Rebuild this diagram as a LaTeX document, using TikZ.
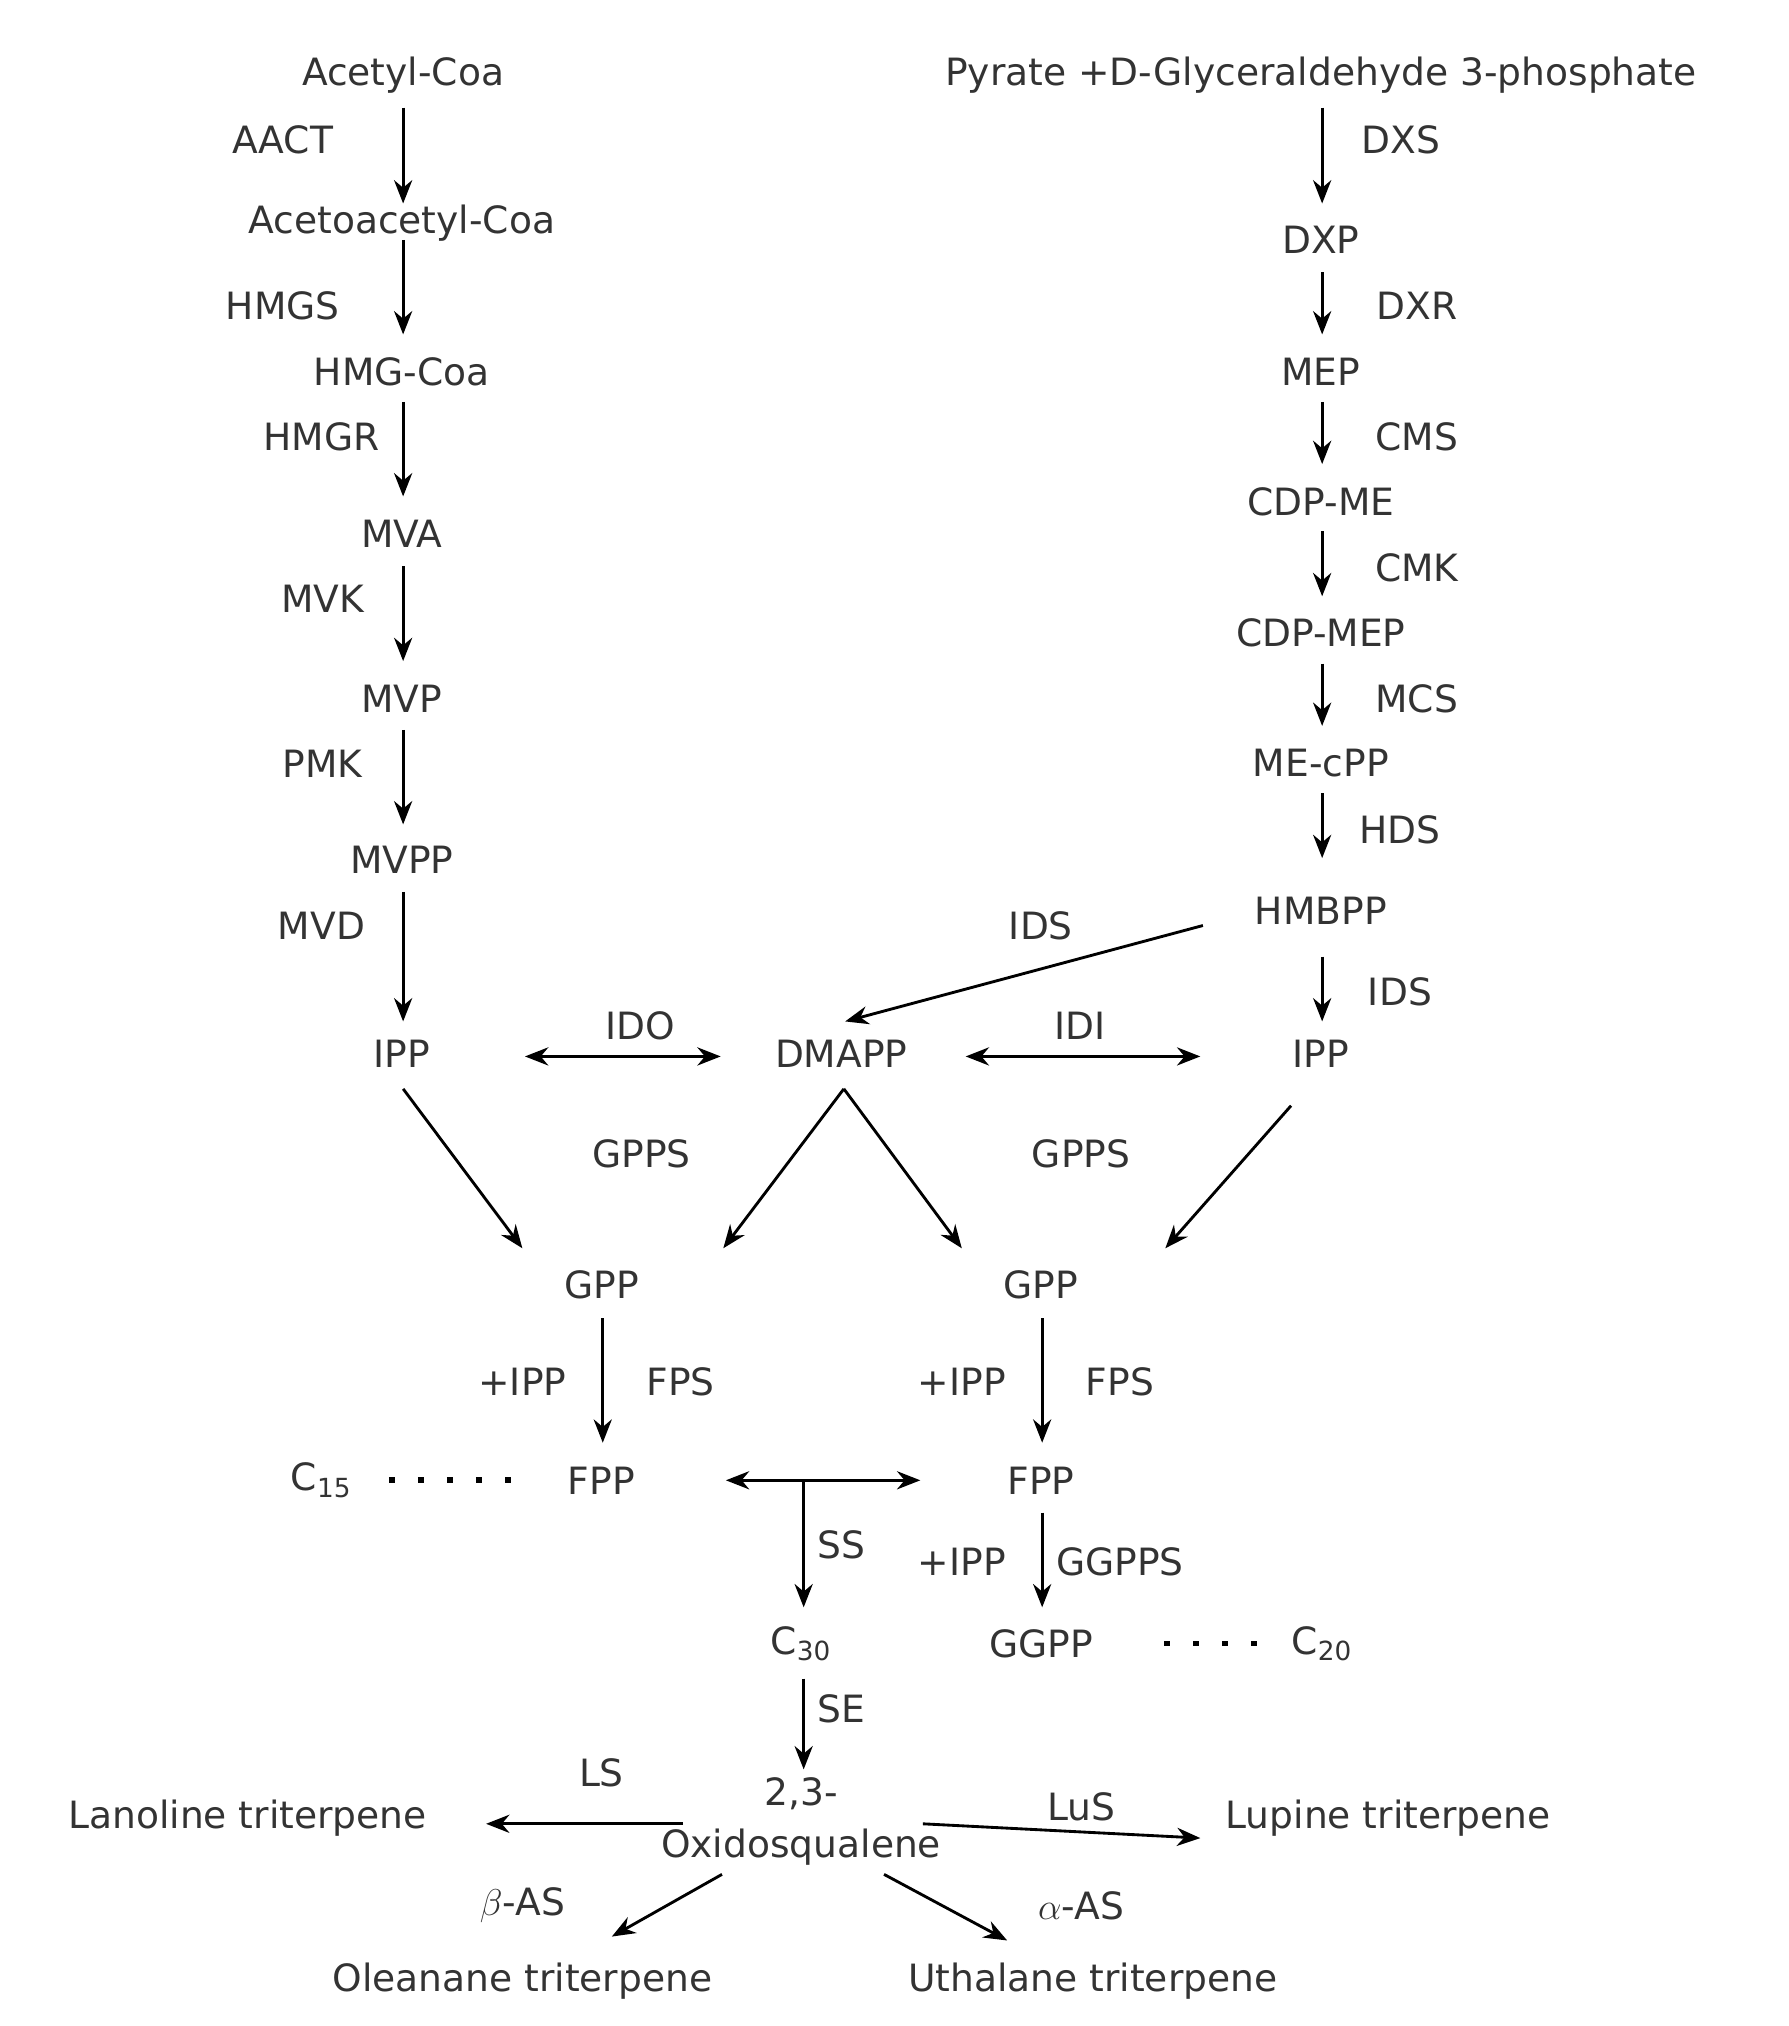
\documentclass[tikz,border=0pt]{standalone}
\usepackage{fontspec}
\setmainfont{DejaVu Sans}
\usetikzlibrary{arrows.meta}
\definecolor{tx}{HTML}{333333}
\begin{document}
\begin{tikzpicture}[x=0.5pt,y=-0.5pt,
  t/.style={text=tx,font=\fontsize{14.5}{16}\selectfont,inner sep=0pt},
  a/.style={-{Stealth[length=9pt,width=7pt]},line width=1.1pt},
  da/.style={{Stealth[length=9pt,width=7pt]}-{Stealth[length=9pt,width=7pt]},line width=1.1pt},
  dots/.style={line width=2.2pt,dash pattern=on 2.2pt off 9pt}]
\useasboundingbox (0,0) rectangle (1380,1563);
% left column
\node[t] (acc) at (311,58) {Acetyl-Coa};
\node[t] at (218,108) {AACT};
\node[t] (aac) at (310,172) {Acetoacetyl-Coa};
\node[t] at (218,236) {HMGS};
\node[t] (hmg) at (310,287) {HMG-Coa};
\node[t] at (248,337) {HMGR};
\node[t] (mva) at (310,412) {MVA};
\node[t] at (249,462) {MVK};
\node[t] (mvp) at (310,539) {MVP};
\node[t] at (249,589) {PMK};
\node[t] (mvpp) at (310,663) {MVPP};
\node[t] at (248,714) {MVD};
\node[t] (ipp1) at (310,813) {IPP};
\draw[a] (311,83)--(311,157);
\draw[a] (311,185)--(311,258);
\draw[a] (311,310)--(311,383);
\draw[a] (311,437)--(311,510);
\draw[a] (311,563)--(311,636);
\draw[a] (311,688)--(311,788);
% right column
\node[t] (pyr) at (1019,58) {Pyrate +D-Glyceraldehyde 3-phosphate};
\node[t] at (1081,108) {DXS};
\node[t] (dxp) at (1019,185) {DXP};
\node[t] at (1093,236) {DXR};
\node[t] (mep) at (1019,287) {MEP};
\node[t] at (1093,337) {CMS};
\node[t] (cdpme) at (1019,387) {CDP-ME};
\node[t] at (1093,438) {CMK};
\node[t] (cdpmep) at (1019,488) {CDP-MEP};
\node[t] at (1093,539) {MCS};
\node[t] (mecpp) at (1019,589) {ME-cPP};
\node[t] at (1080,640) {HDS};
\node[t] (hmbpp) at (1019,703) {HMBPP};
\node[t] at (1080,765) {IDS};
\node[t] (ipp2) at (1019,813) {IPP};
\draw[a] (1020,83)--(1020,157);
\draw[a] (1020,210)--(1020,258);
\draw[a] (1020,310)--(1020,358);
\draw[a] (1020,410)--(1020,460);
\draw[a] (1020,512)--(1020,560);
\draw[a] (1020,612)--(1020,662);
\draw[a] (1020,738)--(1020,788);
% middle
\node[t] at (803,714) {IDS};
\draw[a] (928,714)--(652,788);
\node[t] (dmapp) at (649,813) {DMAPP};
\node[t] at (494,791) {IDO};
\node[t] at (833,791) {IDI};
\draw[da] (405,815)--(556,815);
\draw[da] (745,815)--(926,815);
\node[t] at (495,890) {GPPS};
\node[t] at (834,890) {GPPS};
\draw[a] (311,840)--(403,963);
\draw[a] (651,840)--(558,963);
\draw[a] (651,840)--(742,963);
\draw[a] (996,853)--(899,963);
\node[t] (gpp1) at (464,991) {GPP};
\node[t] (gpp2) at (803,991) {GPP};
\node[t] at (403,1066) {+IPP};
\node[t] at (525,1066) {FPS};
\node[t] at (742,1066) {+IPP};
\node[t] at (864,1066) {FPS};
\draw[a] (465,1017)--(465,1113);
\draw[a] (804,1017)--(804,1113);
\node[t] (c15) at (248,1142) {C\textsubscript{15}};
\draw[dots] (300,1142)--(400,1142);
\node[t] (fpp1) at (464,1142) {FPP};
\node[t] (fpp2) at (803,1142) {FPP};
\draw[da] (560,1142)--(710,1142);
\draw[a] (620,1142)--(620,1240);
\node[t] at (649,1192) {SS};
\node[t] at (742,1205) {+IPP};
\node[t] at (864,1205) {GGPPS};
\draw[a] (804,1167)--(804,1240);
\node[t] (c30) at (618,1268) {C\textsubscript{30}};
\node[t] (ggpp) at (803,1268) {GGPP};
\draw[dots] (898,1268)--(976,1268);
\node[t] (c20) at (1020,1268) {C\textsubscript{20}};
\node[t] at (649,1318) {SE};
\draw[a] (620,1295)--(620,1365);
\node[t] (ox) at (618,1405) [align=center] {2,3-\\[4pt]Oxidosqualene};
\node[t] at (464,1368) {LS};
\node[t] at (834,1394) {LuS};
\draw[a] (527,1407)--(375,1407);
\draw[a] (712,1407)--(926,1418);
\node[t] (lan) at (191,1403) {Lanoline triterpene};
\node[t] (lup) at (1071,1403) {Lupine triterpene};
\node[t] at (403,1470) {$\beta$-AS};
\node[t] at (834,1470) {$\alpha$-AS};
\draw[a] (557,1446)--(472,1494);
\draw[a] (682,1446)--(777,1497);
\node[t] (ole) at (403,1528) {Oleanane triterpene};
\node[t] (uth) at (843,1528) {Uthalane triterpene};
\end{tikzpicture}
\end{document}
